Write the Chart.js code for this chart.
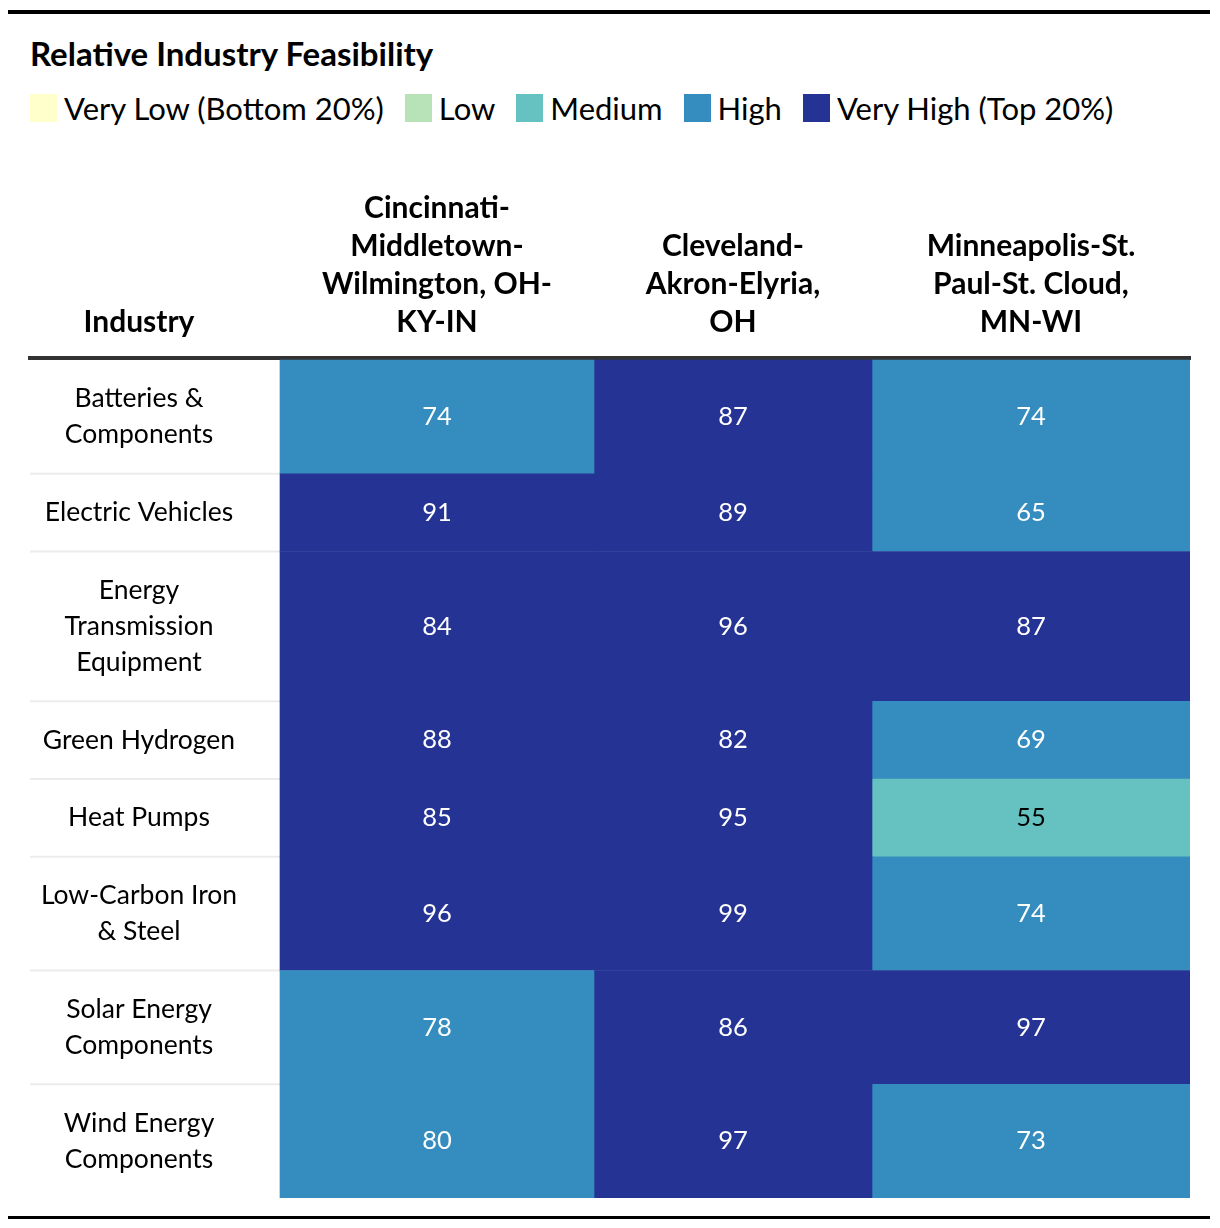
<!DOCTYPE html>
<html>
<head>
<meta charset="utf-8">
<script src="https://cdn.jsdelivr.net/npm/chart.js@4"></script>
<style>
  body { margin: 0; background: #fff; font-family: Lato, sans-serif; color: #000; }
  #page { position: relative; width: 1220px; height: 1228px; }
  .rule { position: absolute; left: 8px; width: 1202px; background: #000; }
  #title { position: absolute; left: 30px; top: 33px; font-weight: 700; font-size: 33px; line-height: 40px; }
  #legend { position: absolute; left: 30px; top: 90px; display: flex; font-size: 31px; line-height: 36px; white-space: nowrap; }
  .item { display: flex; align-items: center; margin-right: 21px; }
  .sw { width: 27px; height: 28px; margin-right: 7px; }
  #chart { position: absolute; left: 0; top: 150px; }
</style>
</head>
<body>
<div id="page">
  <div class="rule" style="top:10px;height:4px"></div>
  <div id="title">Relative Industry Feasibility</div>
  <div id="legend"></div>
  <canvas id="chart" width="1220" height="1070"></canvas>
  <div class="rule" style="top:1216px;height:3px"></div>
</div>
<script>
(function () {
  'use strict';

  // rows, columns, values
  var INDUSTRIES = [
    ['Batteries &', 'Components'],
    ['Electric Vehicles'],
    ['Energy', 'Transmission', 'Equipment'],
    ['Green Hydrogen'],
    ['Heat Pumps'],
    ['Low-Carbon Iron', '& Steel'],
    ['Solar Energy', 'Components'],
    ['Wind Energy', 'Components']
  ];
  var HEADER_FIRST = ['Industry'];
  var METROS = [
    ['Cincinnati-', 'Middletown-', 'Wilmington, OH-', 'KY-IN'],
    ['Cleveland-', 'Akron-Elyria,', 'OH'],
    ['Minneapolis-St.', 'Paul-St. Cloud,', 'MN-WI']
  ];
  var CINCINNATI = [74, 91, 84, 88, 85, 96, 78, 80];
  var CLEVELAND = [87, 89, 96, 82, 95, 99, 86, 97];
  var MINNEAPOLIS = [74, 65, 87, 69, 55, 74, 97, 73];
  var LEVELS = ['Very Low (Bottom 20%)', 'Low', 'Medium', 'High', 'Very High (Top 20%)'];
  var LEVEL_COLORS = ['#ffffcc', '#b8e3b8', '#66c2c0', '#358dbf', '#253494'];

  // layout
  var FONT = 'Lato';
  var BODY_SIZE = 26.5;
  var LINE_H = 36;
  var ROW_PAD = 41.75;
  var LABEL_W = 250;
  var LABEL_CENTER = 109;
  var COL_W = [314, 278, 318];
  var HEADER_GAP = 2;

  var series = [CINCINNATI, CLEVELAND, MINNEAPOLIS];

  function level(v) {
    return Math.min(4, Math.max(0, Math.floor((v - 1) / 20)));
  }

  // legend
  var legend = document.getElementById('legend');
  LEVELS.forEach(function (name, i) {
    var item = document.createElement('div');
    item.className = 'item';
    var sw = document.createElement('span');
    sw.className = 'sw';
    sw.style.background = LEVEL_COLORS[i];
    item.appendChild(sw);
    item.appendChild(document.createTextNode(name));
    legend.appendChild(item);
  });

  // row and column edges
  var rowTop = [], rowMid = [], y = 0;
  INDUSTRIES.forEach(function (lines) {
    var h = lines.length * LINE_H + ROW_PAD;
    rowTop.push(y);
    rowMid.push(y + h / 2);
    y += h;
  });
  var totalH = y;
  rowTop.push(totalH);

  var colMid = [], x = LABEL_W;
  COL_W.forEach(function (w) {
    colMid.push(x + w / 2);
    x += w;
  });
  var totalW = x;

  // centre the row labels in the label column
  var mctx = document.createElement('canvas').getContext('2d');
  mctx.font = BODY_SIZE + 'px ' + FONT;
  var widest = 0;
  INDUSTRIES.forEach(function (lines) {
    lines.forEach(function (l) {
      widest = Math.max(widest, mctx.measureText(l).width);
    });
  });
  var labelPad = LABEL_CENTER - widest / 2;

  var rowRules = {
    id: 'rowRules',
    beforeDatasetsDraw: function (chart) {
      var ctx = chart.ctx, xs = chart.scales.x, ys = chart.scales.y;
      ctx.save();
      ctx.strokeStyle = '#ececec';
      ctx.lineWidth = 2;
      for (var i = 1; i < INDUSTRIES.length; i++) {
        var py = ys.getPixelForValue(rowTop[i]);
        ctx.beginPath();
        ctx.moveTo(xs.getPixelForValue(0), py);
        ctx.lineTo(xs.getPixelForValue(LABEL_W), py);
        ctx.stroke();
      }
      ctx.restore();
    }
  };

  var cellValues = {
    id: 'cellValues',
    afterDatasetsDraw: function (chart) {
      var ctx = chart.ctx;
      ctx.save();
      ctx.font = '25.5px ' + FONT;
      ctx.textAlign = 'center';
      ctx.textBaseline = 'middle';
      chart.data.datasets.forEach(function (ds, j) {
        chart.getDatasetMeta(j).data.forEach(function (el, i) {
          var v = series[j][i];
          var p = el.getCenterPoint();
          ctx.fillStyle = level(v) >= 3 ? '#ffffff' : '#000000';
          ctx.fillText(String(v), p.x, p.y);
        });
      });
      ctx.restore();
    }
  };

  var headers = [HEADER_FIRST].concat(METROS);
  var headerPos = [LABEL_CENTER].concat(colMid);

  new Chart(document.getElementById('chart'), {
    type: 'bar',
    data: {
      datasets: series.map(function (vals, j) {
        return {
          label: METROS[j].join(' '),
          data: vals.map(function (v, i) {
            return { x: colMid[j], y: [rowTop[i], rowTop[i + 1]] };
          }),
          backgroundColor: vals.map(function (v) {
            return LEVEL_COLORS[level(v)];
          }),
          barThickness: COL_W[j],
          grouped: false,
          borderWidth: 0,
          borderSkipped: false
        };
      })
    },
    options: {
      responsive: false,
      animation: false,
      events: [],
      layout: { padding: { left: 30, right: 30, top: 0, bottom: 22 } },
      plugins: {
        legend: { display: false },
        tooltip: { enabled: false },
        title: { display: false }
      },
      scales: {
        x: {
          type: 'linear',
          position: 'top',
          offset: false,
          min: 0,
          max: totalW,
          grid: { display: false, drawTicks: false },
          border: { display: true, color: '#333333', width: 4 },
          afterBuildTicks: function (s) {
            s.ticks = headerPos.map(function (v) { return { value: v }; });
          },
          afterFit: function (s) {
            s.height = 208;
            s.paddingLeft = 0;
            s.paddingRight = 0;
          },
          ticks: {
            autoSkip: false,
            maxRotation: 0,
            minRotation: 0,
            padding: 17,
            color: '#000',
            font: { family: FONT, weight: 'bold', size: 30, lineHeight: 38 / 30 },
            callback: function (v, i) {
              return headers[i];
            }
          }
        },
        y: {
          type: 'linear',
          reverse: true,
          min: -HEADER_GAP,
          max: totalH,
          grid: { display: false, drawTicks: false },
          border: { display: false },
          afterBuildTicks: function (s) {
            s.ticks = rowMid.map(function (v) { return { value: v }; });
          },
          afterFit: function (s) {
            s.width = 0;
            s.paddingTop = 0;
            s.paddingBottom = 0;
          },
          ticks: {
            autoSkip: false,
            mirror: true,
            crossAlign: 'center',
            padding: labelPad,
            color: '#000',
            font: { family: FONT, size: BODY_SIZE, lineHeight: LINE_H / BODY_SIZE },
            callback: function (v, i) {
              return INDUSTRIES[i];
            }
          }
        }
      }
    },
    plugins: [rowRules, cellValues]
  });
})();
</script>
</body>
</html>
